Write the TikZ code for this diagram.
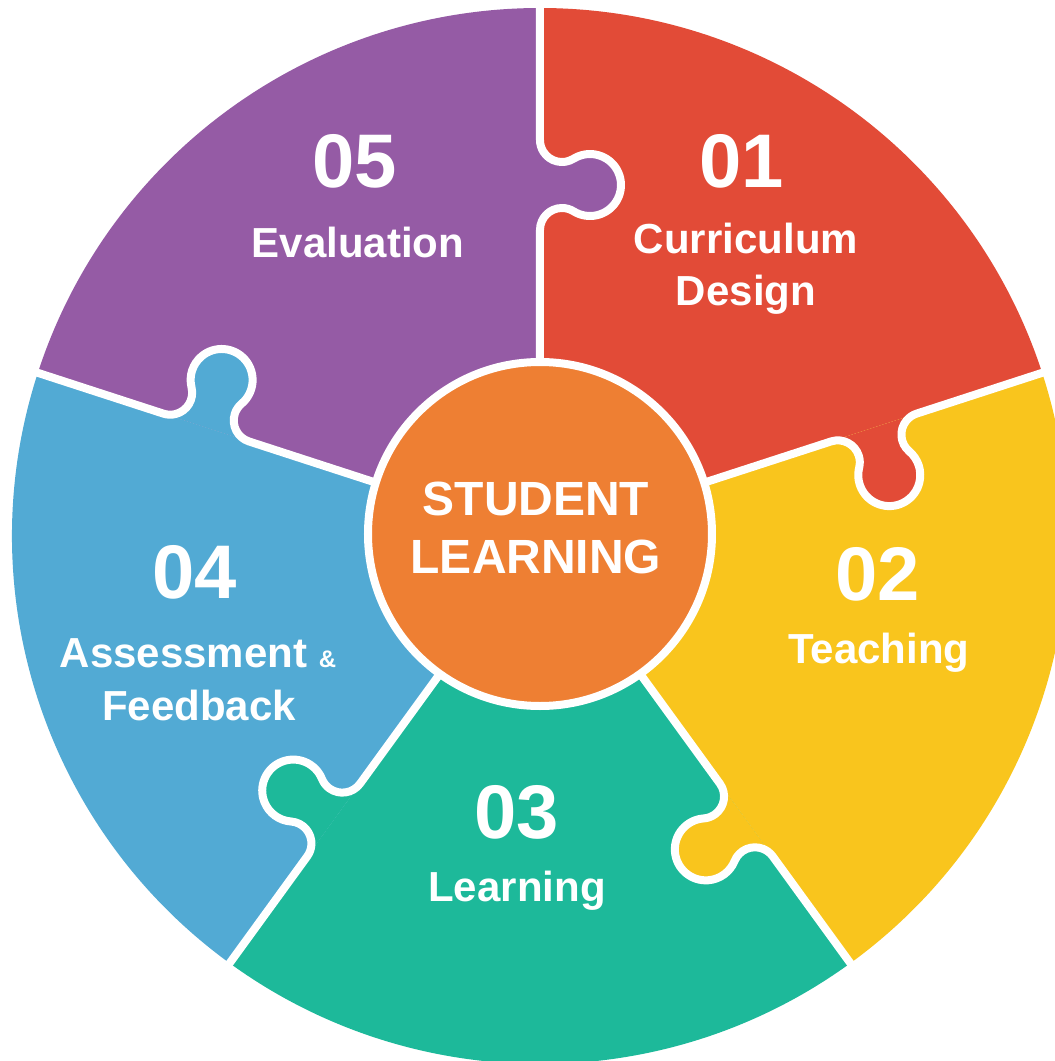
\documentclass[tikz,border=0pt]{standalone}
\usepackage{fontspec}
\setmainfont{Liberation Sans}
\definecolor{cpurple}{HTML}{955BA5}
\definecolor{cred}{HTML}{E24B37}
\definecolor{cyellow}{HTML}{F9C51D}
\definecolor{cgreen}{HTML}{1DB99A}
\definecolor{cblue}{HTML}{52AAD4}
\definecolor{corange}{HTML}{EE7F33}
\newcommand{\knobcurve}{(0,306) arc[start angle=180, end angle=58.11, radius=22] arc[start angle=238.11, end angle=481.89, radius=31] arc[start angle=301.89, end angle=180, radius=22]}
\begin{document}
\begin{tikzpicture}[x=1pt,y=1pt,
  num/.style={text=white, font=\fontsize{76}{80}\selectfont\bfseries, anchor=base, inner sep=0pt},
  lbl/.style={text=white, font=\fontsize{42}{50}\selectfont\bfseries, anchor=base, inner sep=0pt},
  divider/.style={draw=white, line width=8pt, line join=round, line cap=round}]
\useasboundingbox (-540,-525) rectangle (515,536);
\fill[white] (-540,-525) rectangle (515,536);
\begin{scope}
\clip (-540,-525) rectangle (515,536);
% sectors
\fill[cred] (0,0) -- (18:528) arc[start angle=18, end angle=90, radius=528] -- cycle;
\fill[cpurple] (0,0) -- (90:528) arc[start angle=90, end angle=162, radius=528] -- cycle;
\fill[cblue] (0,0) -- (162:528) arc[start angle=162, end angle=234, radius=528] -- cycle;
\fill[cgreen] (0,0) -- (234:528) arc[start angle=234, end angle=306, radius=528] -- cycle;
\fill[cyellow] (0,0) -- (306:528) arc[start angle=306, end angle=378, radius=528] -- cycle;
% knobs (owner colour) and white dividers
\foreach \ang/\col in {90/cpurple, 18/cred, -54/cyellow, -126/cgreen, 162/cblue}{
  \begin{scope}[rotate=\ang-90]
    \fill[\col] \knobcurve -- cycle;
    \path[divider] (0,150) -- \knobcurve -- (0,560);
  \end{scope}
}
\end{scope}
% centre
\node[circle, fill=corange, draw=white, line width=8pt, minimum size=344pt, inner sep=0pt] (centre) at (0,2) {};
\node[lbl, font=\fontsize{48}{50}\selectfont\bfseries] (c1) at (-4,21) {STUDENT};
\node[lbl, font=\fontsize{48}{50}\selectfont\bfseries] (c2) at (-4,-37) {LEARNING};
% labels
\node[num] (n1) at (202,348) {01};
\node[lbl] (t1a) at (206,283) {Curriculum};
\node[lbl] (t1b) at (206,231) {Design};
\node[num] (n2) at (338,-64) {02};
\node[lbl] (t2) at (339,-127) {Teaching};
\node[num] (n3) at (-23,-302) {03};
\node[lbl] (t3) at (-23,-365) {Learning};
\node[num] (n4) at (-345,-62) {04};
\node[lbl] (t4a) at (-342,-131) {Assessment {\fontsize{24}{26}\selectfont\&}};
\node[lbl] (t4b) at (-341,-184) {Feedback};
\node[num] (n5) at (-185,348) {05};
\node[lbl] (t5) at (-182,278) {Evaluation};
\end{tikzpicture}
\end{document}
